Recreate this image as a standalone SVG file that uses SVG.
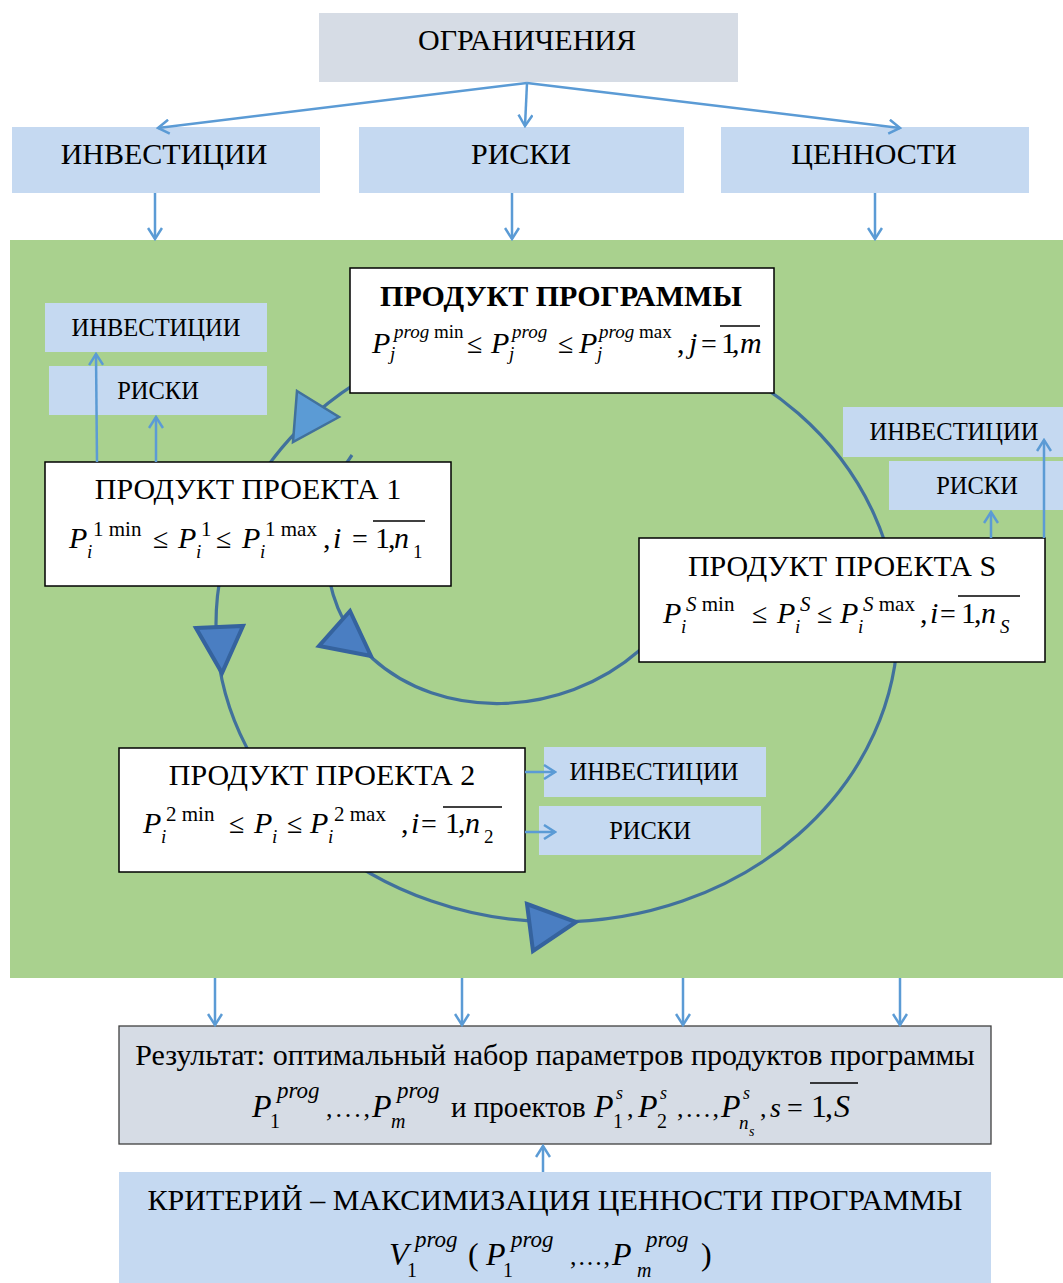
<svg xmlns="http://www.w3.org/2000/svg" width="1063" height="1283" viewBox="0 0 1063 1283" font-family="'Liberation Serif', 'Times New Roman', serif">
<defs>
<style>
text{font-family:"Liberation Serif","Times New Roman",serif;fill:#000}
.it{font-style:italic}
.gray{fill:#d6dce5}
.lb{fill:#c5d9f1}
.wb{fill:#fff;stroke:#000;stroke-width:1.5}
.conn{stroke:#5b9bd5;stroke-width:2.5;fill:none;marker-end:url(#open)}
.ring{stroke:#41719c;stroke-width:3.2;fill:none}
.tri{fill:#4a7ec2;stroke:#35639e;stroke-width:4;stroke-linejoin:miter}
.t30{font-size:30px}
.t24{font-size:24.5px}
.m{font-size:30px}
.s19{font-size:19px}
.s21{font-size:21px}
.s23{font-size:23px}
.le{font-size:28px}
.ov{stroke:#000;stroke-width:1.3}
</style>
<marker id="open" markerWidth="14" markerHeight="16" refX="12" refY="8" orient="auto" markerUnits="userSpaceOnUse">
<path d="M1,1 L12,8 L1,15" fill="none" stroke="#5b9bd5" stroke-width="2.5"/>
</marker>
</defs>
<rect width="1063" height="1283" fill="#fff"/>
<rect x="10" y="240" width="1053" height="738" fill="#a9d18e"/>

<g id="ring">
<ellipse class="ring" cx="557" cy="624" rx="341" ry="298"/>
<path class="ring" d="M352,455 C318,500 310,600 372,658 C440,720 560,720 640,650" stroke-width="3"/>
</g>

<g id="ogranicheniya">
<rect class="gray" x="319" y="13" width="419" height="69"/>
<text class="t30" x="527" y="50" text-anchor="middle">ОГРАНИЧЕНИЯ</text>
</g>
<g id="investicii-top">
<rect class="lb" x="12" y="127" width="308" height="66"/>
<text class="t30" x="164" y="164" text-anchor="middle">ИНВЕСТИЦИИ</text>
</g>
<g id="riski-top">
<rect class="lb" x="359" y="127" width="325" height="66"/>
<text class="t30" x="521" y="164" text-anchor="middle">РИСКИ</text>
</g>
<g id="cennosti-top">
<rect class="lb" x="721" y="127" width="308" height="66"/>
<text class="t30" x="874" y="164" text-anchor="middle">ЦЕННОСТИ</text>
</g>

<g id="produkt-programmy">
<rect class="wb" x="350" y="268" width="424" height="125"/>
<text x="561" y="306" text-anchor="middle" font-size="30" font-weight="bold">ПРОДУКТ ПРОГРАММЫ</text>
<text class="m"><tspan class="it" x="372" y="353">P</tspan><tspan class="s19" x="394" y="338"><tspan class="it">prog</tspan> min</tspan><tspan class="s19 it" x="390" y="360">j</tspan><tspan class="le" x="467" y="353">≤</tspan><tspan class="it" x="491" y="353">P</tspan><tspan class="s19 it" x="512" y="338">prog</tspan><tspan class="s19 it" x="509" y="360">j</tspan><tspan class="le" x="558" y="353">≤</tspan><tspan class="it" x="579" y="353">P</tspan><tspan class="s19" x="599" y="338"><tspan class="it">prog</tspan> max</tspan><tspan class="s19 it" x="597" y="360">j</tspan><tspan x="677" y="353">,</tspan><tspan class="it" x="689" y="353">j</tspan><tspan class="le" x="701" y="353">=</tspan><tspan x="721" y="353">1</tspan><tspan x="732" y="353">,</tspan><tspan class="it" x="740" y="353">m</tspan></text>
<line class="ov" x1="720" y1="326" x2="760" y2="326"/>
</g>

<g id="investicii-left">
<rect class="lb" x="45" y="303" width="222" height="49"/>
<text class="t24" x="156" y="336" text-anchor="middle">ИНВЕСТИЦИИ</text>
</g>
<g id="riski-left">
<rect class="lb" x="49" y="366" width="218" height="49"/>
<text class="t24" x="158" y="399" text-anchor="middle">РИСКИ</text>
</g>

<g id="produkt-proekta-1">
<rect class="wb" x="45" y="462" width="406" height="124"/>
<text class="t30" x="248" y="499" text-anchor="middle">ПРОДУКТ ПРОЕКТА 1</text>
<text class="m"><tspan class="it" x="69" y="548">P</tspan><tspan class="s21" x="93" y="536">1 min</tspan><tspan class="s19 it" x="87" y="558">i</tspan><tspan class="le" x="153" y="548">≤</tspan><tspan class="it" x="178" y="548">P</tspan><tspan class="s21" x="201" y="536">1</tspan><tspan class="s19 it" x="196" y="558">i</tspan><tspan class="le" x="216" y="548">≤</tspan><tspan class="it" x="242" y="548">P</tspan><tspan class="s21" x="265" y="536">1 max</tspan><tspan class="s19 it" x="260" y="558">i</tspan><tspan x="323" y="548">,</tspan><tspan class="it" x="333" y="548">i</tspan><tspan class="le" x="352" y="548">=</tspan><tspan x="375" y="548">1</tspan><tspan x="388" y="548">,</tspan><tspan class="it" x="394" y="548">n</tspan><tspan class="s19" x="413" y="558">1</tspan></text>
<line class="ov" x1="373" y1="521" x2="425" y2="521"/>
</g>

<g id="investicii-right">
<rect class="lb" x="843" y="407" width="220" height="50"/>
<text class="t24" x="954" y="440" text-anchor="middle">ИНВЕСТИЦИИ</text>
</g>
<g id="riski-right">
<rect class="lb" x="889" y="461" width="174" height="49"/>
<text class="t24" x="977" y="494" text-anchor="middle">РИСКИ</text>
</g>

<g id="produkt-proekta-s">
<rect class="wb" x="639" y="538" width="406" height="124"/>
<text class="t30" x="842" y="576" text-anchor="middle">ПРОДУКТ ПРОЕКТА S</text>
<text class="m"><tspan class="it" x="663" y="623">P</tspan><tspan class="s21" x="686" y="611"><tspan class="it">S</tspan> min</tspan><tspan class="s19 it" x="681" y="633">i</tspan><tspan class="le" x="752" y="623">≤</tspan><tspan class="it" x="777" y="623">P</tspan><tspan class="s21 it" x="800" y="611">S</tspan><tspan class="s19 it" x="795" y="633">i</tspan><tspan class="le" x="817" y="623">≤</tspan><tspan class="it" x="840" y="623">P</tspan><tspan class="s21" x="863" y="611"><tspan class="it">S</tspan> max</tspan><tspan class="s19 it" x="858" y="633">i</tspan><tspan x="920" y="623">,</tspan><tspan class="it" x="930" y="623">i</tspan><tspan class="le" x="940" y="623">=</tspan><tspan x="961" y="623">1</tspan><tspan x="974" y="623">,</tspan><tspan class="it" x="981" y="623">n</tspan><tspan class="s19 it" x="1000" y="633">S</tspan></text>
<line class="ov" x1="958" y1="596" x2="1020" y2="596"/>
</g>

<g id="produkt-proekta-2">
<rect class="wb" x="119" y="748" width="406" height="124"/>
<text class="t30" x="322" y="785" text-anchor="middle">ПРОДУКТ ПРОЕКТА 2</text>
<text class="m"><tspan class="it" x="143" y="833">P</tspan><tspan class="s21" x="166" y="821">2 min</tspan><tspan class="s19 it" x="161" y="843">i</tspan><tspan class="le" x="229" y="833">≤</tspan><tspan class="it" x="254" y="833">P</tspan><tspan class="s19 it" x="272" y="843">i</tspan><tspan class="le" x="287" y="833">≤</tspan><tspan class="it" x="310" y="833">P</tspan><tspan class="s21" x="334" y="821">2 max</tspan><tspan class="s19 it" x="328" y="843">i</tspan><tspan x="401" y="833">,</tspan><tspan class="it" x="411" y="833">i</tspan><tspan class="le" x="421" y="833">=</tspan><tspan x="445" y="833">1</tspan><tspan x="458" y="833">,</tspan><tspan class="it" x="465" y="833">n</tspan><tspan class="s19" x="484" y="843">2</tspan></text>
<line class="ov" x1="443" y1="807" x2="502" y2="807"/>
</g>

<g id="investicii-mid">
<rect class="lb" x="544" y="747" width="222" height="50"/>
<text class="t24" x="654" y="780" text-anchor="middle">ИНВЕСТИЦИИ</text>
</g>
<g id="riski-mid">
<rect class="lb" x="539" y="806" width="222" height="49"/>
<text class="t24" x="650" y="839" text-anchor="middle">РИСКИ</text>
</g>

<g id="rezultat">
<rect x="119" y="1026" width="872" height="118" fill="#d6dce5" stroke="#404040" stroke-width="1.3"/>
<text class="t30" x="555" y="1065" text-anchor="middle">Результат: оптимальный набор параметров продуктов программы</text>
<text font-size="32"><tspan class="it" x="252" y="1117">P</tspan><tspan class="s23 it" x="277" y="1098">prog</tspan><tspan font-size="20" x="270" y="1128">1</tspan><tspan font-size="26" x="326" y="1117" textLength="44" lengthAdjust="spacing">,...,</tspan><tspan class="it" x="372" y="1117">P</tspan><tspan class="s23 it" x="397" y="1098">prog</tspan><tspan class="it" font-size="20" x="391" y="1128">m</tspan><tspan font-size="29" x="451" y="1117">и проектов</tspan><tspan class="it" x="594" y="1117">P</tspan><tspan class="it" font-size="18" x="616" y="1099">s</tspan><tspan font-size="20" x="613" y="1128">1</tspan><tspan font-size="26" x="627" y="1117">,</tspan><tspan class="it" x="638" y="1117">P</tspan><tspan class="it" font-size="18" x="660" y="1099">s</tspan><tspan font-size="20" x="657" y="1128">2</tspan><tspan font-size="26" x="677" y="1117" textLength="42" lengthAdjust="spacing">,...,</tspan><tspan class="it" x="721" y="1117">P</tspan><tspan class="it" font-size="18" x="743" y="1099">s</tspan><tspan class="it" font-size="19" x="739" y="1129">n</tspan><tspan class="it" font-size="14" x="749" y="1136">s</tspan><tspan font-size="26" x="760" y="1117">,</tspan><tspan class="it" font-size="28" x="770" y="1117">s</tspan><tspan font-size="28" x="787" y="1117">=</tspan><tspan x="811" y="1117">1</tspan><tspan x="825" y="1117">,</tspan><tspan class="it" x="834" y="1117">S</tspan></text>
<line class="ov" x1="810" y1="1083" x2="858" y2="1083"/>
</g>

<g id="kriterij">
<rect class="lb" x="119" y="1172" width="872" height="111"/>
<text class="t30" x="555" y="1210" text-anchor="middle">КРИТЕРИЙ – МАКСИМИЗАЦИЯ ЦЕННОСТИ ПРОГРАММЫ</text>
<text font-size="32"><tspan class="it" x="389" y="1265">V</tspan><tspan class="s23 it" x="415" y="1247">prog</tspan><tspan font-size="20" x="407" y="1277">1</tspan><tspan x="468" y="1265">(</tspan><tspan class="it" x="486" y="1265">P</tspan><tspan class="s23 it" x="511" y="1247">prog</tspan><tspan font-size="20" x="503" y="1277">1</tspan><tspan font-size="26" x="570" y="1265" textLength="40" lengthAdjust="spacing">,...,</tspan><tspan class="it" x="612" y="1265">P</tspan><tspan class="s23 it" x="646" y="1247">prog</tspan><tspan class="it" font-size="20" x="637" y="1277">m</tspan><tspan x="701" y="1265">)</tspan></text>
</g>

<g id="connectors">
<line class="conn" x1="527" y1="83" x2="158" y2="128"/>
<line class="conn" x1="527" y1="83" x2="525" y2="126"/>
<line class="conn" x1="527" y1="83" x2="900" y2="128"/>
<line class="conn" x1="155" y1="193" x2="155" y2="239"/>
<line class="conn" x1="512" y1="193" x2="512" y2="239"/>
<line class="conn" x1="875" y1="193" x2="875" y2="239"/>
<line class="conn" x1="97" y1="462" x2="96" y2="354"/>
<line class="conn" x1="156" y1="462" x2="156" y2="417"/>
<line class="conn" x1="1044" y1="538" x2="1044" y2="440"/>
<line class="conn" x1="991" y1="538" x2="991" y2="512"/>
<line class="conn" x1="525" y1="772" x2="555" y2="772"/>
<line class="conn" x1="525" y1="832" x2="555" y2="832"/>
<line class="conn" x1="215" y1="978" x2="215" y2="1025"/>
<line class="conn" x1="462" y1="978" x2="462" y2="1025"/>
<line class="conn" x1="683" y1="978" x2="683" y2="1025"/>
<line class="conn" x1="900" y1="978" x2="900" y2="1025"/>
<line class="conn" x1="543" y1="1172" x2="543" y2="1146"/>
<polygon points="297,391 339,417 293,442" fill="#5b9bd5" stroke="#41719c" stroke-width="2.5"/>
<polygon class="tri" points="196,628 243,626 222,673"/>
<polygon class="tri" points="350,611 319,646 371,656"/>
<polygon class="tri" points="527,904 576,922 533,951"/>
</g>
</svg>
